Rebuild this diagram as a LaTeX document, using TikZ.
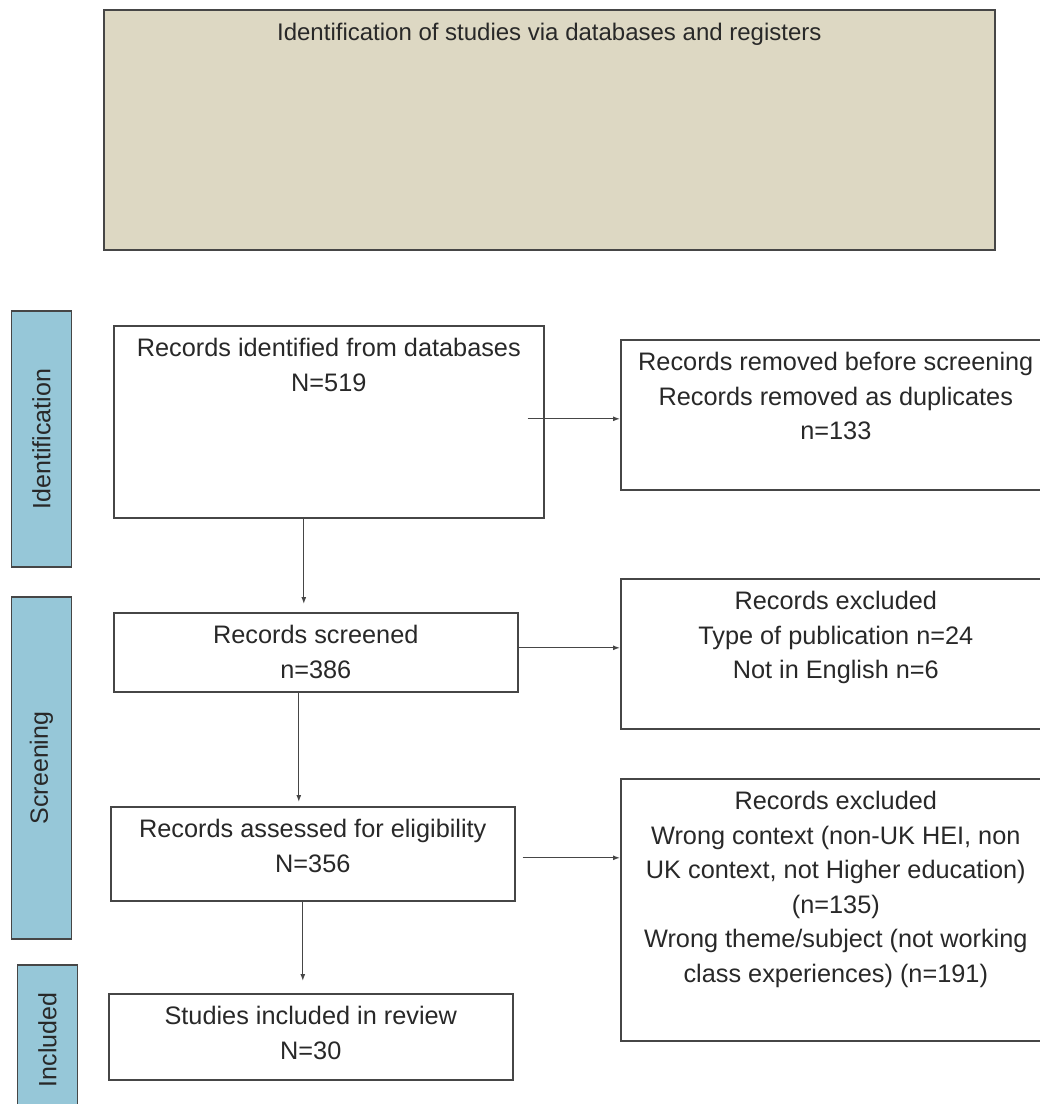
\documentclass[tikz,border=0pt]{standalone}
\usepackage{fontspec}
\setmainfont{Liberation Sans}
\usetikzlibrary{calc, arrows.meta}

\definecolor{headbg}{RGB}{221,216,195}
\definecolor{phasebg}{RGB}{150,199,216}
\definecolor{linegray}{RGB}{70,70,70}
\definecolor{textgray}{RGB}{40,40,40}

\newcommand{\boxtext}[3]{\begin{minipage}[t][#2][t]{#1}\centering\rule{0pt}{31pt}#3\end{minipage}}

\begin{document}
\begin{tikzpicture}[x=1pt, y=-1pt,
    record/.style={draw=linegray, line width=1.6pt, inner sep=0pt, anchor=north west,
                   text=textgray, font=\fontsize{25.3}{34.5}\selectfont},
    header/.style={record, fill=headbg, font=\fontsize{24}{30}\selectfont},
    phase/.style={draw=linegray, line width=1.6pt, fill=phasebg, rotate=90,
                  minimum height=60pt, inner sep=0pt, text=textgray,
                  font=\fontsize{25}{30}\selectfont},
    flow/.style={draw=linegray, line width=1.2pt, -{Latex[length=7pt,width=5pt]}}]
    \useasboundingbox (0,0) rectangle (1040,1104);
    \clip (0,0) rectangle (1040,1104);
    % header
    \node[header] (head) at (103, 9) {\boxtext{891pt}{240pt}{Identification of studies via databases and registers}};
    % phase bars
    \node[phase, minimum width=256pt] (phid) at (41.5, 439) {Identification};
    \node[phase, minimum width=342pt] (phscr) at (41.5, 768) {Screening};
    \node[phase, minimum width=150pt] (phinc) at (47.5, 1040) {Included};
    % main flow nodes
    \node[record] (recdb) at (113, 325) {\boxtext{430pt}{192pt}{Records identified from databases\\N=519}};
    \node[record] (recscr) at (113, 612) {\boxtext{404pt}{79pt}{Records screened\\n=386}};
    \node[record] (recelig) at (110, 806) {\boxtext{404pt}{94pt}{Records assessed for eligibility\\N=356}};
    \node[record] (recinc) at (108, 993) {\boxtext{404pt}{86pt}{Studies included in review\\N=30}};
    % removed and excluded nodes
    \node[record] (recdup) at (620, 339) {\boxtext{430pt}{150pt}{Records removed before screening\\Records removed as duplicates\\n=133}};
    \node[record] (recexc) at (620, 578) {\boxtext{430pt}{150pt}{Records excluded\\Type of publication n=24\\Not in English n=6}};
    \node[record] (recfull) at (620, 778) {\boxtext{430pt}{262pt}{Records excluded\\Wrong context (non-UK HEI, non\\UK context, not Higher education)\\(n=135)\\Wrong theme/subject (not working\\class experiences) (n=191)}};
    % downward flow
    \draw[flow, shorten >=8pt] ([xshift=-25pt]recdb.south) -- ([xshift=-25pt]recdb.south |- recscr.north);
    \draw[flow, shorten >=4pt] ([xshift=-17pt]recscr.south) -- ([xshift=-17pt]recscr.south |- recelig.north);
    \draw[flow, shorten >=12pt] ([xshift=-10pt]recelig.south) -- ([xshift=-10pt]recelig.south |- recinc.north);
    % sideways flow
    \draw[flow] ([xshift=-17pt, yshift=3pt]recdb.east) -- ([yshift=3pt]recdb.east -| recdup.west);
    \draw[flow] ([yshift=4.5pt]recscr.east) -- ([yshift=4.5pt]recscr.east -| recexc.west);
    \draw[flow] ([xshift=7pt, yshift=-4pt]recelig.east) -- ([yshift=-4pt]recelig.east -| recfull.west);
\end{tikzpicture}
\end{document}
